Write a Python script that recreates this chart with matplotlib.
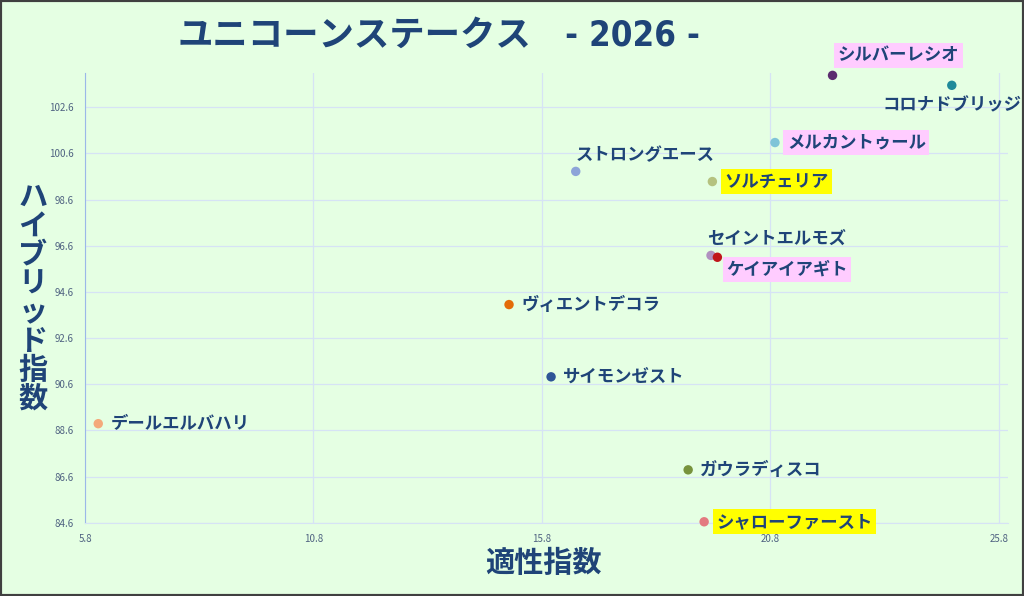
import matplotlib as mpl
import matplotlib.pyplot as plt
from matplotlib.patches import Rectangle

plt.rcParams['font.family'] = ['Noto Sans CJK JP', 'DejaVu Sans']

# data
horses = ['シルバーレシオ', 'コロナドブリッジ', 'メルカントゥール', 'ストロングエース',
          'ソルチェリア', 'セイントエルモズ', 'ケイアイアギト', 'ヴィエントデコラ',
          'サイモンゼスト', 'デールエルバハリ', 'ガウラディスコ', 'シャローファースト']
tekisei = [22.16, 24.77, 20.90, 16.54, 19.53, 19.50, 19.64, 15.08, 16.00, 6.09, 19.00, 19.35]
hybrid = [103.98, 103.55, 101.07, 99.82, 99.38, 96.18, 96.10, 94.05, 90.92, 88.89, 86.89, 84.64]
colors = ['#5B2C6F', '#1F8A9A', '#7FC4D8', '#8DA4D8', '#B5C27F', '#B090C0',
          '#C0161A', '#E36C09', '#2E5597', '#F4A97A', '#77933C', '#E37A80']
highlight = ['#FFCCFF', None, '#FFCCFF', None, '#FFFF00', None, '#FFCCFF', None, None, None, None, '#FFFF00']
xticks = [5.8, 10.8, 15.8, 20.8, 25.8]
yticks = [84.6, 86.6, 88.6, 90.6, 92.6, 94.6, 96.6, 98.6, 100.6, 102.6]

# label placement (offset pixels, ha)
offsets = [(5, 20, 'left'), (0, -20, 'center'), (12, 0, 'left'), (0, 16, 'left'),
           (12, 0, 'left'), (-4, 17, 'left'), (9, -12, 'left'), (12, 0, 'left'),
           (12, 0, 'left'), (12, 0, 'left'), (12, 0, 'left'), (12, 0, 'left')]

bg = '#E5FFE3'
navy = '#1F4478'

fig = plt.figure(figsize=(10.24, 5.96), dpi=100, facecolor=bg)
ax = fig.add_axes([85 / 1024, 1 - 522.7 / 596, (1008 - 85) / 1024, (522.7 - 73.3) / 596])
ax.set_facecolor(bg)

ax.scatter(tekisei, hybrid, s=46, c=colors, zorder=3, linewidths=0, clip_on=False)

for name, x, y, hl, (dx, dy, ha) in zip(horses, tekisei, hybrid, highlight, offsets):
    box = dict(boxstyle='square,pad=0.2', fc=hl, ec='none') if hl else None
    ax.annotate(name, (x, y), xytext=(dx, dy), textcoords='offset pixels',
                ha=ha, va='center', fontsize=12.5, fontweight='bold',
                color=navy, bbox=box, zorder=4, annotation_clip=False)

ax.set_xlim(5.8, 26.0)
ax.set_ylim(84.6, 104.07)
ax.set_xticks(xticks)
ax.set_yticks(yticks)
ax.set_xticklabels([str(t) for t in xticks])
ax.set_yticklabels([str(t) for t in yticks])
ax.tick_params(length=0, labelsize=7, labelcolor='#4F6281', pad=8)
ax.grid(True, color='#D6E3F5', linewidth=0.9)
ax.set_axisbelow(True)
for s in ['top', 'right']:
    ax.spines[s].set_visible(False)
ax.spines['left'].set_color('#9BB8E8')
ax.spines['bottom'].set_color('#D6E3F5')

# axis titles
fig.text(543 / 1024, 1 - 563 / 596, '適性指数', ha='center', va='center',
         fontsize=21, fontweight='bold', color=navy)
fig.text(33 / 1024, 1 - 298 / 596, '\n'.join('ハイブリッド指数'), ha='center', va='center',
         fontsize=21, fontweight='bold', color=navy, linespacing=0.95)

# title
fig.text(177 / 1024, 1 - 35 / 596, 'ユニコーンステークス', ha='left', va='center',
         fontsize=25.5, fontweight='bold', color=navy)
fig.text(565 / 1024, 1 - 35 / 596, '- 2026 -', ha='left', va='center',
         fontsize=25, fontweight='bold', color=navy, fontstretch='condensed',
         family=['DejaVu Sans'])

fig.patches.append(Rectangle((0, 0), 1, 1, transform=fig.transFigure, fill=False,
                             ec='#404040', lw=3, zorder=10))

fig.savefig('out.png', dpi=100, facecolor=bg)
